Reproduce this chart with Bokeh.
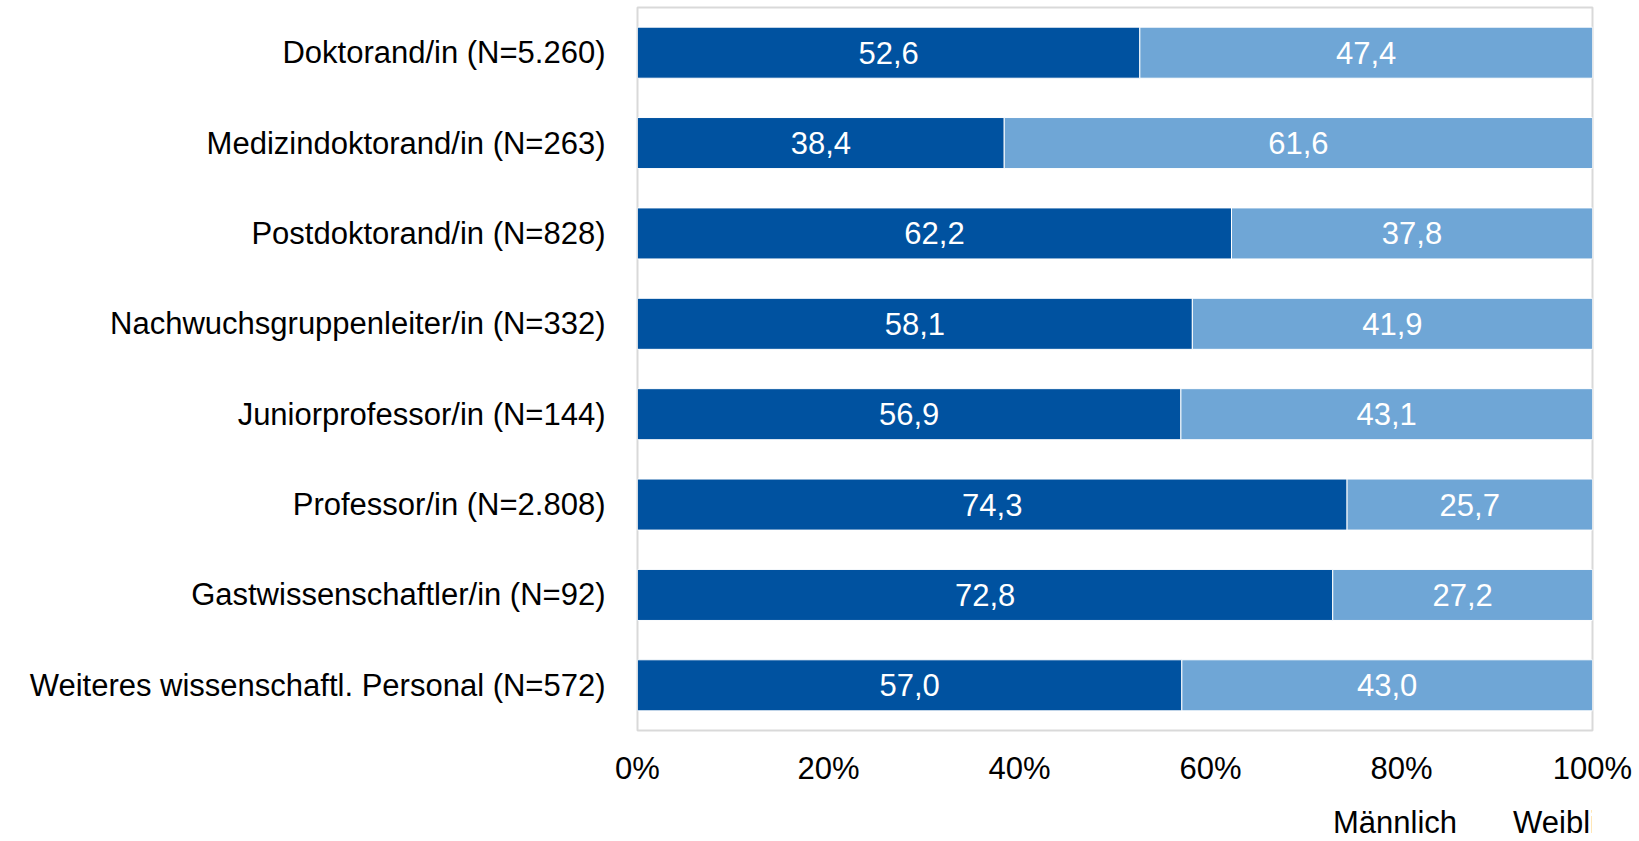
from bokeh.plotting import figure
from bokeh.layouts import column
from bokeh.models import ColumnDataSource, Legend, LegendItem, NumeralTickFormatter, FixedTicker, FactorRange, Range1d, LabelSet
from bokeh.core.properties import value
from bokeh.embed import file_html
from bokeh.resources import INLINE

categories = [
    "Doktorand/in (N=5.260)",
    "Medizindoktorand/in (N=263)",
    "Postdoktorand/in (N=828)",
    "Nachwuchsgruppenleiter/in (N=332)",
    "Juniorprofessor/in (N=144)",
    "Professor/in (N=2.808)",
    "Gastwissenschaftler/in (N=92)",
    "Weiteres wissenschaftl. Personal (N=572)",
]
maennlich = [52.6, 38.4, 62.2, 58.1, 56.9, 74.3, 72.8, 57.0]
weiblich = [47.4, 61.6, 37.8, 41.9, 43.1, 25.7, 27.2, 43.0]
x_ticks = [0, 20, 40, 60, 80, 100]
series_names = ["Männlich", "Weiblich"]

DARK = "#0052A0"
LIGHT = "#6FA6D6"
FONT = "Liberation Sans"
FS = "31px"

def fmt(v):
    return f"{v:.1f}".replace(".", ",")

src = ColumnDataSource(dict(
    cat=categories,
    m_end=maennlich,
    w_end=[a + b for a, b in zip(maennlich, weiblich)],
    m_mid=[a / 2 for a in maennlich],
    w_mid=[a + b / 2 for a, b in zip(maennlich, weiblich)],
    m_lab=[fmt(v) for v in maennlich],
    w_lab=[fmt(v) for v in weiblich],
))

fig = figure(
    width=1639, height=790,
    frame_width=955, frame_height=723,
    y_range=FactorRange(*reversed(categories), range_padding=0),
    x_range=Range1d(0, 100),
    output_backend="svg", toolbar_location=None,
    min_border_left=637, min_border_right=47, min_border_top=7, min_border_bottom=60,
)

fig.hbar(y="cat", left=0, right="m_end", height=0.565, source=src,
         fill_color=DARK, line_color="white", line_width=1)
fig.hbar(y="cat", left="m_end", right="w_end", height=0.565, source=src,
         fill_color=LIGHT, line_color="white", line_width=1)

for xcol, tcol in (("m_mid", "m_lab"), ("w_mid", "w_lab")):
    fig.add_layout(LabelSet(x=xcol, y="cat", text=tcol, source=src,
                            text_color="white", text_font=value(FONT), text_font_size=FS,
                            text_align="center", text_baseline="middle"))

fig.xgrid.visible = False
fig.ygrid.visible = False
fig.outline_line_color = "#d9d9d9"
fig.outline_line_width = 2

fig.xaxis.ticker = FixedTicker(ticks=x_ticks)
fig.xaxis.formatter = NumeralTickFormatter(format="0")
fig.xaxis.major_label_overrides = {t: f"{t}%" for t in x_ticks}
for ax in (fig.xaxis, fig.yaxis):
    ax.axis_line_color = None
    ax.major_tick_line_color = None
    ax.minor_tick_line_color = None
    ax.major_tick_out = 0
    ax.major_tick_in = 0
    ax.major_label_text_font = FONT
    ax.major_label_text_font_size = FS
    ax.major_label_text_color = "black"
fig.xaxis.major_label_standoff = 20
fig.yaxis.major_label_standoff = 32

# legend strip below the chart
leg = figure(
    width=1639, height=51,
    x_range=Range1d(0, 1), y_range=Range1d(0, 1),
    x_axis_type=None, y_axis_type=None,
    output_backend="svg", toolbar_location=None,
    min_border_left=0, min_border_right=0, min_border_top=0, min_border_bottom=0,
)
leg.outline_line_color = None
lr1 = leg.hbar(y=[], left=[], right=[], height=1, fill_color=DARK, line_color=None)
lr2 = leg.hbar(y=[], left=[], right=[], height=1, fill_color=LIGHT, line_color=None)

legend = Legend(items=[LegendItem(label=series_names[0], renderers=[lr1]),
                       LegendItem(label=series_names[1], renderers=[lr2])],
                orientation="horizontal", location=(673, 0),
                glyph_width=17, glyph_height=16, label_standoff=6, spacing=33,
                padding=0, margin=0, border_line_alpha=0, background_fill_alpha=0,
                label_text_font=FONT, label_text_font_size=FS, label_text_color="black")
leg.add_layout(legend, "center")

p = column(fig, leg, spacing=0)

open("out.html", "w").write(file_html(p, INLINE))
